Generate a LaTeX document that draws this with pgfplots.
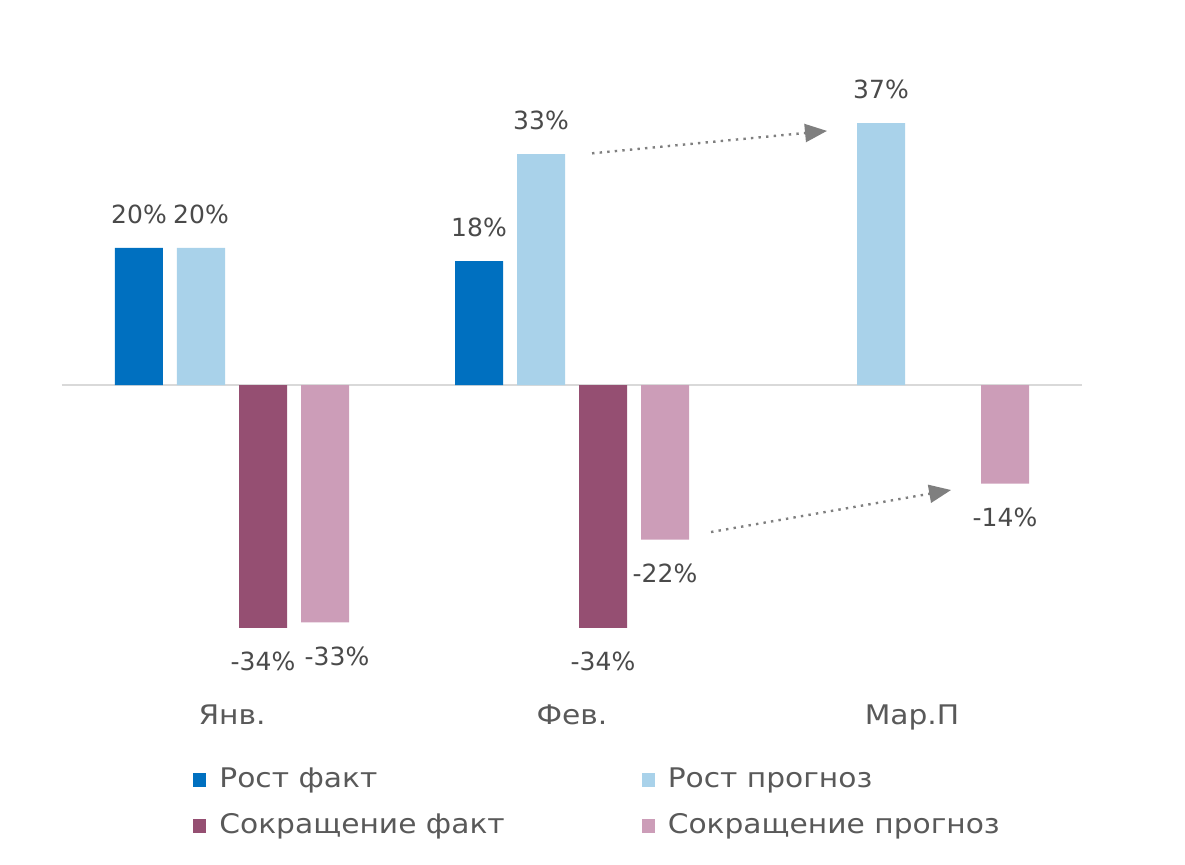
\documentclass[border=0pt]{standalone}
\usepackage{pgfplots}
\pgfplotsset{compat=1.18}
\usepackage{fontspec}
\setmainfont{DejaVu Sans}
\newfontfamily\wide{DejaVu Sans}[FakeStretch=1.1]
\usetikzlibrary{arrows.meta}
\definecolor{c1}{HTML}{0070C0}
\definecolor{c2}{HTML}{A9D2EA}
\definecolor{c3}{HTML}{954F72}
\definecolor{c4}{HTML}{CC9DB8}
\definecolor{txt}{HTML}{595959}
\definecolor{lbl}{HTML}{4A4A4A}
\definecolor{arr}{HTML}{7F7F7F}
\definecolor{zline}{HTML}{D9D9D9}
\begin{document}
\begin{tikzpicture}
\useasboundingbox (0,0) rectangle (592.5pt,432pt);
\begin{axis}[
  at={(31pt,99.5pt)}, anchor=south west,
  scale only axis, width=510pt, height=280pt,
  xmin=-0.5, xmax=2.5, ymin=-40, ymax=40,
  ybar=7pt, bar width=24pt,
  axis line style={draw=none},
  xtick={0,1,2}, xticklabels={Янв.,Фев.,Мар.П},
  ytick=\empty, major tick length=0pt,
  xticklabel style={font=\wide\fontsize{13.5}{16}\selectfont, text=txt, yshift=-16.5pt},
  clip=false,
  point meta=explicit,
  /pgf/number format/assume math mode=true,
  nodes near coords={\pgfmathprintnumber{\pgfplotspointmeta}\%},
  every node near coord/.append style={font=\fontsize{12.5}{15}\selectfont, text=lbl, inner ysep=12pt, inner xsep=0pt},
  legend style={draw=none, fill=none, at={(0.1284,-0.182)}, anchor=north west,
    inner sep=0pt, row sep=10pt, font=\wide\fontsize{13.5}{16}\selectfont, text=txt,
    nodes={inner sep=0pt, text height=10pt, text depth=3pt},
    /tikz/every odd column/.append style={column sep=6.5pt},
    /tikz/every even column/.append style={column sep=68.5pt}},
  legend columns=2,
  legend cell align=left,
  legend image code/.code={\fill[#1] (0pt,-3.25pt) rectangle (6.5pt,3.75pt);},
]
\draw[zline, line width=1pt] (axis cs:-0.5,0) -- (axis cs:2.5,0);
\addplot[fill=c1, draw=none] table[meta=m] {
x y m
0 19.6 20
1 17.7 18
};
\addlegendentry{Рост факт}
\addplot[fill=c2, draw=none] table[meta=m] {
x y m
0 19.6 20
1 33.0 33
2 37.4 37
};
\addlegendentry{Рост прогноз}
\addplot[fill=c3, draw=none] table[meta=m] {
x y m
0 -34.7 -34
1 -34.7 -34
};
\addlegendentry{Сокращение факт}
\addplot[fill=c4, draw=none,
  visualization depends on={\thisrow{dx}\as\dx},
  every node near coord/.append style={xshift=\dx pt}] table[meta=m] {
x y m dx
0 -33.9 -33 6
1 -22.1 -22 0
2 -14.1 -14 0
};
\addlegendentry{Сокращение прогноз}
\draw[arr, line width=1.2pt, dash pattern=on 1.2pt off 2.6pt, -{Triangle[length=11pt,width=9pt]}]
  (axis cs:1.059,33.1) -- (axis cs:1.75,36.3);
\draw[arr, line width=1.2pt, dash pattern=on 1.2pt off 2.6pt, -{Triangle[length=11pt,width=9pt]}]
  (axis cs:1.409,-21.0) -- (axis cs:2.115,-15.0);
\end{axis}
\end{tikzpicture}
\end{document}
